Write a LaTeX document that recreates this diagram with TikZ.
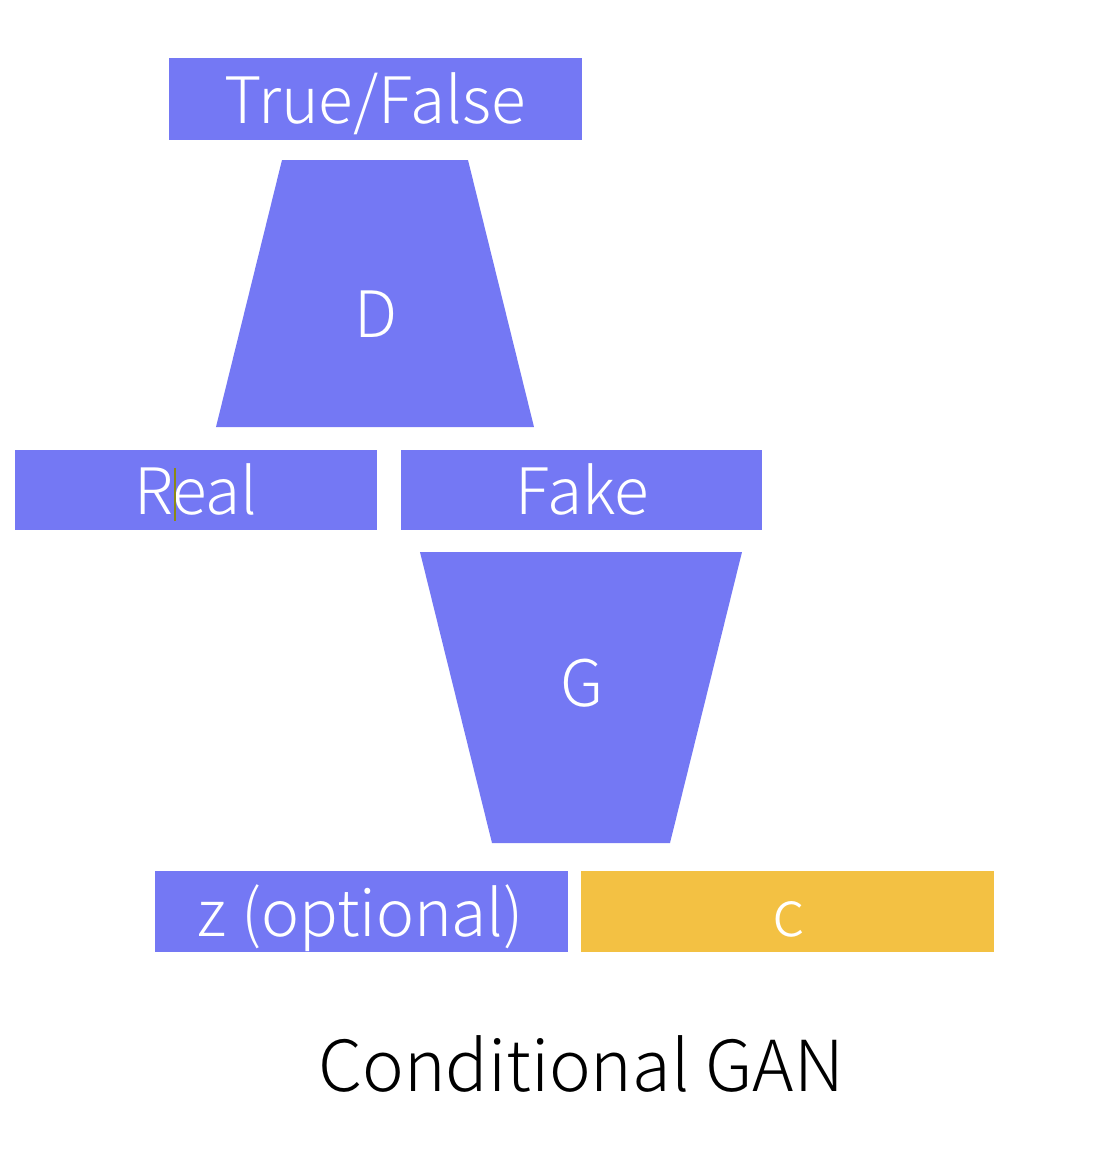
\documentclass[tikz,border=0pt]{standalone}
\usepackage{fontspec}
\setmainfont{Noto Sans CJK KR}[UprightFont={* Light}]
\definecolor{gblue}{RGB}{116,120,244}
\definecolor{gyellow}{RGB}{243,193,67}
\definecolor{caret}{RGB}{140,138,20}
\tikzset{
  box/.style={fill=gblue, draw=none},
  ybox/.style={fill=gyellow, draw=none},
  lbl/.style={text=white, font=\fontsize{18.2}{18.2}\selectfont, anchor=base, inner sep=0pt},
}
\begin{document}
\begin{tikzpicture}[x=0.01cm,y=-0.01cm]
\useasboundingbox (0,0) rectangle (1096,1156);
% boxes
\fill[box] (169,58) rectangle (582,140);
\node[lbl] (tf) at (375,123) {True/False};
\fill[box] (282,160) -- (468,160) -- (534,427) -- (216,427) -- cycle;
\node[lbl] (d) at (376,337) {D};
\fill[box] (15,450) rectangle (377,530);
\node[lbl] (real) at (196,514) {Real};
\draw[caret, line width=0.45pt] (175,468) -- (175,521);
\fill[box] (401,450) rectangle (762,530);
\node[lbl] (fake) at (582,514) {Fake};
\fill[box] (420,552) -- (742,552) -- (670,843) -- (492,843) -- cycle;
\node[lbl] (g) at (582,706) {G};
\fill[box] (155,871) rectangle (568,952);
\node[lbl] (z) at (361,936) {z (optional)};
\fill[ybox] (581,871) rectangle (994,952);
\node[lbl] (c) at (788,936) {c};
\node[anchor=base, inner sep=0pt, font=\fontsize{20}{20}\selectfont] (title) at (581,1091) {Conditional GAN};
\end{tikzpicture}
\end{document}
